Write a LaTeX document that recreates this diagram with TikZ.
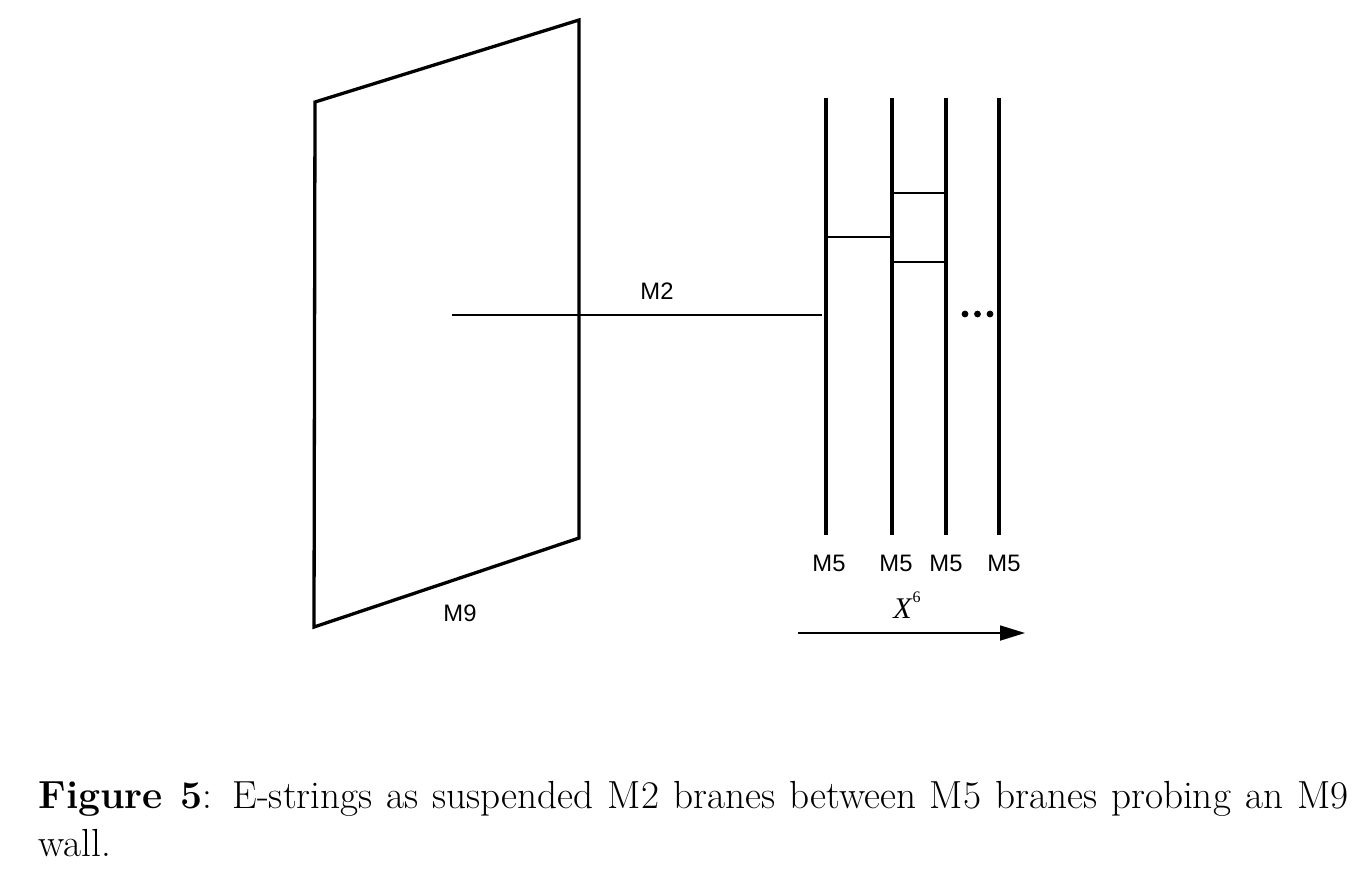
\documentclass[tikz,border=0pt]{standalone}
\usepackage{fontspec}
\newfontfamily\arialf{Liberation Sans}
\newfontfamily\timesf{Liberation Serif}
\usetikzlibrary{arrows.meta}
\begin{document}
\begin{tikzpicture}[x=0.5pt,y=-0.5pt,
  thickline/.style={line width=1.65pt},
  thinline/.style={line width=0.85pt},
  lab/.style={font=\arialf\fontsize{11.9}{14}\selectfont, inner sep=0pt},
  dotmark/.style={circle, fill=black, inner sep=0pt, minimum size=3.4pt}]
\useasboundingbox (0,0) rectangle (1365,880);
% M9 wall
\coordinate (w1) at (315,102);
\coordinate (w2) at (579,20);
\coordinate (w3) at (579,538);
\coordinate (w4) at (314,627);
\draw[thickline, line join=miter] (w1) -- (w2) -- (w3) -- (w4) -- cycle;
\node[lab] (m9) at (460,613) {M9};
% M5 branes
\coordinate (a1) at (826,98);  \coordinate (a2) at (826,535);
\coordinate (b1) at (892,98);  \coordinate (b2) at (892,535);
\coordinate (c1) at (946,98);  \coordinate (c2) at (946,535);
\coordinate (d1) at (999,98);  \coordinate (d2) at (999,535);
\draw[thickline] (a1) -- (a2);
\draw[thickline] (b1) -- (b2);
\draw[thickline] (c1) -- (c2);
\draw[thickline] (d1) -- (d2);
% M2 branes
\coordinate (m2a) at (452,315);
\coordinate (m2b) at (822,315);
\draw[thinline] (m2a) -- (m2b);
\node[lab] (m2) at (657,291) {M2};
\coordinate (r1a) at (826,237); \coordinate (r1b) at (892,237);
\coordinate (r2a) at (892,193); \coordinate (r2b) at (946,193);
\coordinate (r3a) at (892,262); \coordinate (r3b) at (946,262);
\draw[thinline] (r1a) -- (r1b);
\draw[thinline] (r2a) -- (r2b);
\draw[thinline] (r3a) -- (r3b);
% dots
\node[dotmark] (p1) at (965,314) {};
\node[dotmark] (p2) at (977.5,314) {};
\node[dotmark] (p3) at (990,314) {};
% M5 labels
\node[lab] (l1) at (829,563) {M5};
\node[lab] (l2) at (896,563) {M5};
\node[lab] (l3) at (946,563) {M5};
\node[lab] (l4) at (1004,563) {M5};
% X6 arrow
\node[font=\timesf\fontsize{15}{16}\selectfont, inner sep=0pt] (x6) at (907,605) {\textit{X}\raisebox{0.55em}{\fontsize{8}{9}\selectfont 6}};
\coordinate (xa) at (798,633);
\coordinate (xb) at (1025,633);
\draw[thinline, -{Triangle[length=12.5pt,width=7.5pt]}] (xa) -- (xb);
% caption
\node[anchor=north west, text width=655pt, align=justify, inner sep=0pt,
  font=\fontsize{19.6}{23.9}\selectfont] (cap) at (38,781)
  {\textbf{Figure 5}: E-strings as suspended M2 branes between M5 branes probing an M9\linebreak wall.};
\end{tikzpicture}
\end{document}
